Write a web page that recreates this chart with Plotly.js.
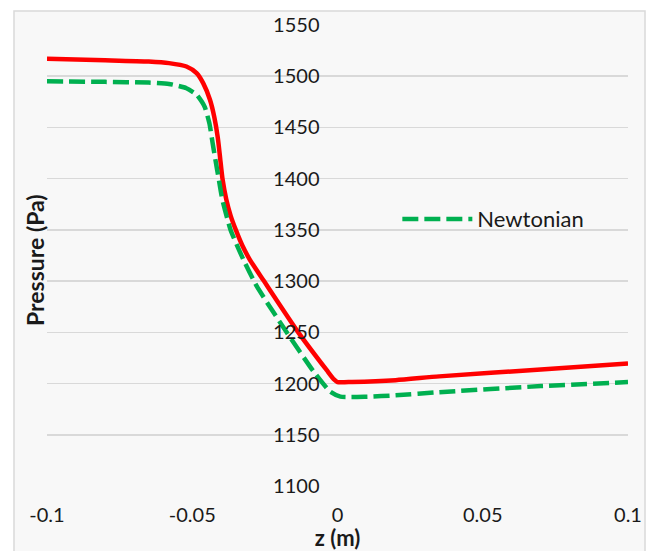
<!DOCTYPE html>
<html>
<head>
<meta charset="utf-8">
<script src="https://cdn.plot.ly/plotly-3.0.1.min.js"></script>
<style>html,body{margin:0;padding:0;background:#fff;}#chart{width:646px;height:551px;}</style>
</head>
<body>
<div id="chart"></div>
<script>
// Non-Newtonian (red) series
const zRed = [-0.1, -0.08, -0.065, -0.058, -0.052, -0.0485, -0.0462, -0.0439, -0.0424, -0.0412, -0.0404, -0.0396, -0.0383, -0.0368, -0.0350, -0.0328, -0.0302, -0.0253, -0.0135, -0.0037, -0.0012, 0, 0.005, 0.02, 0.035, 0.07, 0.1];
const pRed = [1517, 1515.6, 1514.3, 1512.8, 1509.5, 1503, 1493, 1477, 1460, 1440, 1420, 1400, 1380, 1364, 1350, 1335, 1321, 1300, 1250, 1213, 1204, 1201.5, 1201.6, 1203.3, 1207, 1213.7, 1219.6];
// Newtonian (green dashed) series
const zGreen = [-0.1, -0.08, -0.065, -0.058, -0.052, -0.0485, -0.0457, -0.0441, -0.0430, -0.0420, -0.0409, -0.0396, -0.0368, -0.0324, -0.0278, -0.0175, -0.0083, -0.0025, 0.001, 0.01, 0.02, 0.035, 0.07, 0.1];
const pGreen = [1495, 1494.5, 1493.8, 1492.5, 1488.3, 1482, 1470, 1454, 1435, 1418, 1400, 1379, 1350, 1321, 1295, 1250, 1212, 1192, 1187.3, 1187.2, 1188.5, 1191.6, 1197.5, 1201.4];
const yTicks = [1100, 1150, 1200, 1250, 1300, 1350, 1400, 1450, 1500, 1550];
const xTicks = [-0.1, -0.05, 0, 0.05, 0.1];
const xTickText = ['-0.1', '-0.05', '0', '0.05', '0.1'];

const traces = [
  {x: zRed, y: pRed, type: 'scatter', mode: 'lines', name: 'Non-Newtonian', showlegend: false,
   line: {color: '#ff0000', width: 4.5, shape: 'spline', smoothing: 0.6}},
  {x: zGreen, y: pGreen, type: 'scatter', mode: 'lines', name: 'Newtonian',
   line: {color: '#00b050', width: 4.5, dash: '16px,6px', shape: 'spline', smoothing: 0.5}}
];

const fam = 'Lato, "Open Sans", sans-serif';
const font = {family: fam, size: 20, color: '#1a1a1a'};

const layout = {
  width: 646, height: 551,
  margin: {l: 47, r: 18, t: 25, b: 65},
  paper_bgcolor: '#ffffff',
  plot_bgcolor: 'rgba(0,0,0,0)',
  font: font,
  showlegend: true,
  legend: {x: 0.603, y: 0.579, xanchor: 'left', yanchor: 'middle', bgcolor: 'rgba(0,0,0,0)',
           font: {family: fam, size: 22, color: '#1a1a1a'}, itemwidth: 70},
  xaxis: {
    range: [-0.1, 0.1], tickvals: xTicks, ticktext: xTickText,
    showgrid: false, zeroline: false, showline: false, ticks: '',
    ticklabelstandoff: 15, tickfont: font,
    title: {text: 'z (m)', font: {family: fam, size: 22, color: '#1a1a1a', weight: 'bold'}, standoff: 5}
  },
  yaxis: {
    range: [1100, 1550], tickvals: yTicks,
    anchor: 'free', position: 0.5,
    showgrid: true, gridcolor: '#d9d9d9', gridwidth: 1.5,
    zeroline: false, showline: false, ticks: '',
    ticklabelstandoff: 18, tickfont: font,
    title: {text: ''}
  },
  annotations: [
    {text: '<b>Pressure (Pa)</b>', xref: 'paper', yref: 'paper', x: (35 - 47) / 581, y: (486 - 260) / 461,
     showarrow: false, textangle: -90, xanchor: 'center', yanchor: 'middle',
     font: {family: fam, size: 23, color: '#1a1a1a'}}
  ],
  shapes: [
    {type: 'rect', xref: 'paper', yref: 'paper', layer: 'below',
     x0: (14 - 47) / 581, x1: (645 - 47) / 581, y0: (486 - 552) / 461, y1: (486 - 11) / 461,
     line: {color: '#d9d9d9', width: 1.5}, fillcolor: '#f8f8f8'}
  ]
};

Plotly.newPlot('chart', traces, layout, {displayModeBar: false, staticPlot: true});
</script>
</body>
</html>
